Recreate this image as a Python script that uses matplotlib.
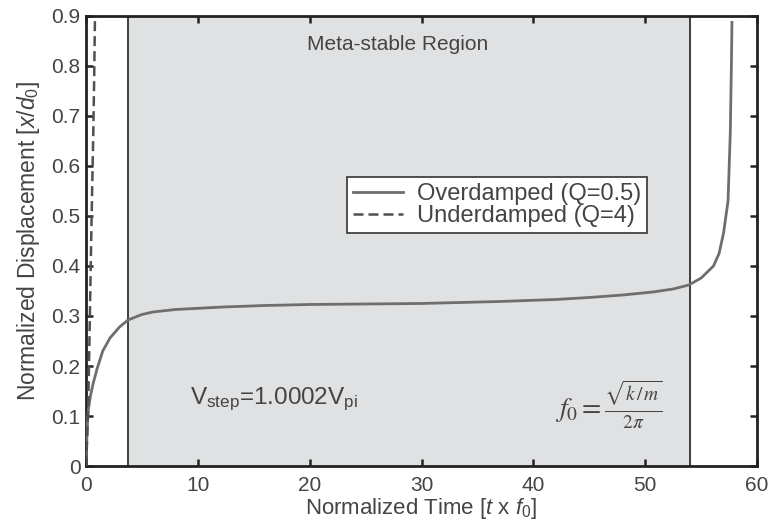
import matplotlib
matplotlib.use("Agg")
import matplotlib.pyplot as plt

plt.rcParams['font.family'] = ['Liberation Sans', 'DejaVu Sans']
plt.rcParams['mathtext.fontset'] = 'custom'
plt.rcParams['mathtext.rm'] = 'Liberation Sans'
plt.rcParams['mathtext.it'] = 'Liberation Sans:italic'
plt.rcParams['mathtext.sf'] = 'Liberation Sans'

# Overdamped response (Q=0.5)
t_over = [0, 0.05, 0.1, 0.2, 0.4, 0.63, 1.0, 1.5, 2.15, 3.0, 3.76, 5.0, 6.0,
          8.0, 12.3, 16.0, 20.0, 25.0, 30.0, 37.0, 42.0, 45.0, 48.0, 50.7,
          52.5, 53.9, 55.0, 56.1, 56.6, 57.0, 57.4, 57.6, 57.7, 57.75]
x_over = [0, 0.04, 0.07, 0.11, 0.14, 0.164, 0.195, 0.23, 0.256, 0.278, 0.292,
          0.303, 0.308, 0.313, 0.318, 0.321, 0.323, 0.324, 0.325, 0.329, 0.333,
          0.337, 0.342, 0.348, 0.354, 0.362, 0.376, 0.40, 0.425, 0.466, 0.53,
          0.665, 0.80, 0.887]

# Underdamped response (Q=4)
t_under = [0, 0.1, 0.2, 0.27, 0.35, 0.45, 0.55, 0.65, 0.73, 0.8]
x_under = [0, 0.05, 0.12, 0.2, 0.3, 0.43, 0.55, 0.66, 0.77, 0.89]

# Meta-stable region bounds
region = [3.76, 54.0]

x_ticks = [0, 10, 20, 30, 40, 50, 60]
y_ticks = [0, 0.1, 0.2, 0.3, 0.4, 0.5, 0.6, 0.7, 0.8, 0.9]

fig = plt.figure(figsize=(7.71, 5.29), dpi=100)
ax = fig.add_axes([0.1115, 0.119, 0.8705, 0.851])

ax.axvspan(region[0], region[1], color='#e0e1e3', zorder=0)
for xv in region:
    ax.axvline(xv, color='#333333', lw=1.3, zorder=1)

ax.plot(t_over, x_over, color='#6e6e6e', lw=2.0, label='Overdamped (Q=0.5)', zorder=3)
ax.plot(t_under, x_under, color='#505050', lw=1.8, ls=(0, (4, 2)),
        label='Underdamped (Q=4)', zorder=3)

ax.set_xlim(0, 60)
ax.set_ylim(0, 0.9)
ax.set_xticks(x_ticks)
ax.set_yticks(y_ticks)
ax.set_xticklabels([str(v) for v in x_ticks])
ax.set_yticklabels(['0' if v == 0 else f'{v:.1f}' for v in y_ticks])
ax.tick_params(direction='in', top=True, right=True, length=5, width=1.8,
               labelsize=15, labelcolor='#444444', color='#222222')
ax.tick_params(axis='x', pad=7)
ax.tick_params(axis='y', pad=4)
for s in ax.spines.values():
    s.set_linewidth(2.0)
    s.set_color('#222222')

ax.set_xlabel(r'Normalized Time [$t$ x $f_0$]', fontsize=16,
              color='#444444', labelpad=1)
ax.set_ylabel(r'Normalized Displacement [$x/d_0$]', fontsize=16.5,
              color='#444444', labelpad=7)

ax.text(27.9, 0.842, 'Meta-stable Region', ha='center', va='center',
        fontsize=15, color='#444444')
ax.text(9.3, 0.134, r'V$_{\mathrm{step}}$=1.0002V$_{\mathrm{pi}}$', ha='left',
        va='center', fontsize=17.5, color='#444444')
ax.text(41.9, 0.122, r'$f_0=\frac{\sqrt{k\,/\,m}}{2\pi}$', ha='left',
        va='center', fontsize=20, color='#444444', math_fontfamily='stix')

leg = ax.legend(loc='center', bbox_to_anchor=(0.613, 0.58), fontsize=17,
                frameon=True, fancybox=False, edgecolor='#333333',
                framealpha=1.0, borderpad=0.25, handlelength=2.1,
                labelspacing=0.0, handletextpad=0.6, borderaxespad=0)
leg.get_frame().set_linewidth(1.2)
for t in leg.get_texts():
    t.set_color('#444444')

fig.savefig('out.png', dpi=100)
